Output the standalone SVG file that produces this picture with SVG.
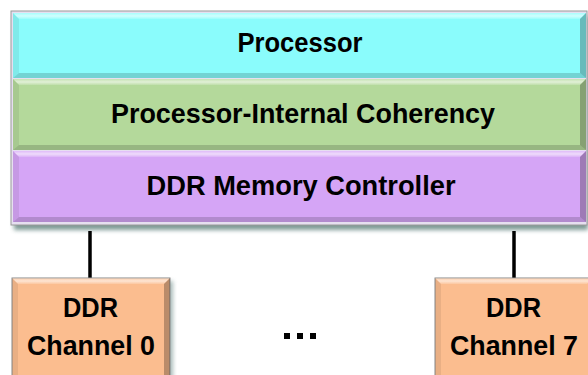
<svg xmlns="http://www.w3.org/2000/svg" width="588" height="375" viewBox="0 0 588 375">
  <defs>
    <style>
      .lbl { font-family: "Liberation Sans", Arial, sans-serif; font-weight: bold; font-size: 27px; fill: #000; text-anchor: middle; }
      .hi { fill: url(#topHi); }
      .lo { fill: #000; opacity: 0.16; }
      .rt { fill: #000; opacity: 0.26; }
      .lf { fill: #000; opacity: 0.07; }
      .wire { stroke: #000; stroke-width: 3.5; fill: none; }
    </style>
    <linearGradient id="topHi" x1="0" y1="0" x2="0" y2="1">
      <stop offset="0" stop-color="#fff" stop-opacity="0.25"/>
      <stop offset="0.5" stop-color="#fff" stop-opacity="0.6"/>
      <stop offset="1" stop-color="#fff" stop-opacity="0.15"/>
    </linearGradient>
    <filter id="soft" x="-5%" y="-5%" width="110%" height="120%">
      <feGaussianBlur stdDeviation="2"/>
    </filter>
  </defs>

  <rect width="588" height="375" fill="#fff"/>

  <!-- stack frame and drop shadow -->
  <g id="stack-frame">
    <rect x="14" y="17" width="574" height="213" fill="#5f817c" opacity="0.8" filter="url(#soft)"/>
    <rect x="11" y="11" width="576" height="214" fill="#e6dff0" stroke="#9a9a9a" stroke-width="1"/>
  </g>

  <!-- processor layer -->
  <g id="processor">
    <rect x="13" y="13" width="573" height="65" fill="#8afcfc"/>
    <polygon class="hi" points="13,13 586,13 580,19 19,19"/>
    <polygon class="lo" points="13,78 586,78 580,73 19,73"/>
    <polygon class="rt" points="586,13 586,78 580,73 580,19"/>
    <polygon class="lf" points="13,13 13,78 19,73 19,19"/>
    <text class="lbl" x="300" y="52" textLength="125" lengthAdjust="spacingAndGlyphs">Processor</text>
  </g>

  <!-- coherency layer -->
  <g id="coherency">
    <rect x="13" y="79" width="573" height="71" fill="#b4d99b"/>
    <polygon class="hi" points="13,79 586,79 580,85 19,85"/>
    <polygon class="lo" points="13,150 586,150 580,145 19,145"/>
    <polygon class="rt" points="586,79 586,150 580,145 580,85"/>
    <polygon class="lf" points="13,79 13,150 19,145 19,85"/>
    <text class="lbl" x="303" y="123" textLength="384" lengthAdjust="spacingAndGlyphs">Processor-Internal Coherency</text>
  </g>

  <!-- memory controller layer -->
  <g id="memory-controller">
    <rect x="13" y="151" width="573" height="71" fill="#d5a5f6"/>
    <polygon class="hi" points="13,151 586,151 580,157 19,157"/>
    <polygon class="lo" points="13,222 586,222 580,217 19,217"/>
    <polygon class="rt" points="586,151 586,222 580,217 580,157"/>
    <polygon class="lf" points="13,151 13,222 19,217 19,157"/>
    <text class="lbl" x="301" y="195" textLength="309" lengthAdjust="spacingAndGlyphs">DDR Memory Controller</text>
  </g>

  <!-- links from controller to channels -->
  <g id="connectors">
    <line class="wire" x1="90" y1="231" x2="90" y2="278"/>
    <line class="wire" x1="514" y1="231" x2="514" y2="278"/>
  </g>

  <!-- channel 0 -->
  <g id="channel-0">
    <rect x="15" y="281" width="158" height="100" fill="#6f8f8a" opacity="0.6" filter="url(#soft)"/>
    <rect x="12" y="278" width="158" height="100" fill="#fbbd8f" stroke="#8a8a8a" stroke-width="1"/>
    <polygon class="hi" points="12,278 170,278 164,284 18,284"/>
    <polygon class="rt" points="170,278 170,378 164,378 164,284"/>
    <polygon class="lf" points="12,278 12,378 18,378 18,284"/>
    <text class="lbl" x="90.5" y="317" textLength="55" lengthAdjust="spacingAndGlyphs">DDR</text>
    <text class="lbl" x="91" y="355" textLength="128" lengthAdjust="spacingAndGlyphs">Channel 0</text>
  </g>

  <!-- ellipsis between channels -->
  <g id="ellipsis">
    <rect x="284" y="333" width="6" height="6"/>
    <rect x="297" y="333" width="6" height="6"/>
    <rect x="310" y="333" width="6" height="6"/>
  </g>

  <!-- channel 7 -->
  <g id="channel-7">
    <rect x="438" y="281" width="158" height="100" fill="#6f8f8a" opacity="0.6" filter="url(#soft)"/>
    <rect x="435" y="278" width="158" height="100" fill="#fbbd8f" stroke="#8a8a8a" stroke-width="1"/>
    <polygon class="hi" points="435,278 593,278 587,284 441,284"/>
    <polygon class="lf" points="435,278 435,378 441,378 441,284"/>
    <text class="lbl" x="513.5" y="317" textLength="55" lengthAdjust="spacingAndGlyphs">DDR</text>
    <text class="lbl" x="514" y="355" textLength="128" lengthAdjust="spacingAndGlyphs">Channel 7</text>
  </g>
</svg>
